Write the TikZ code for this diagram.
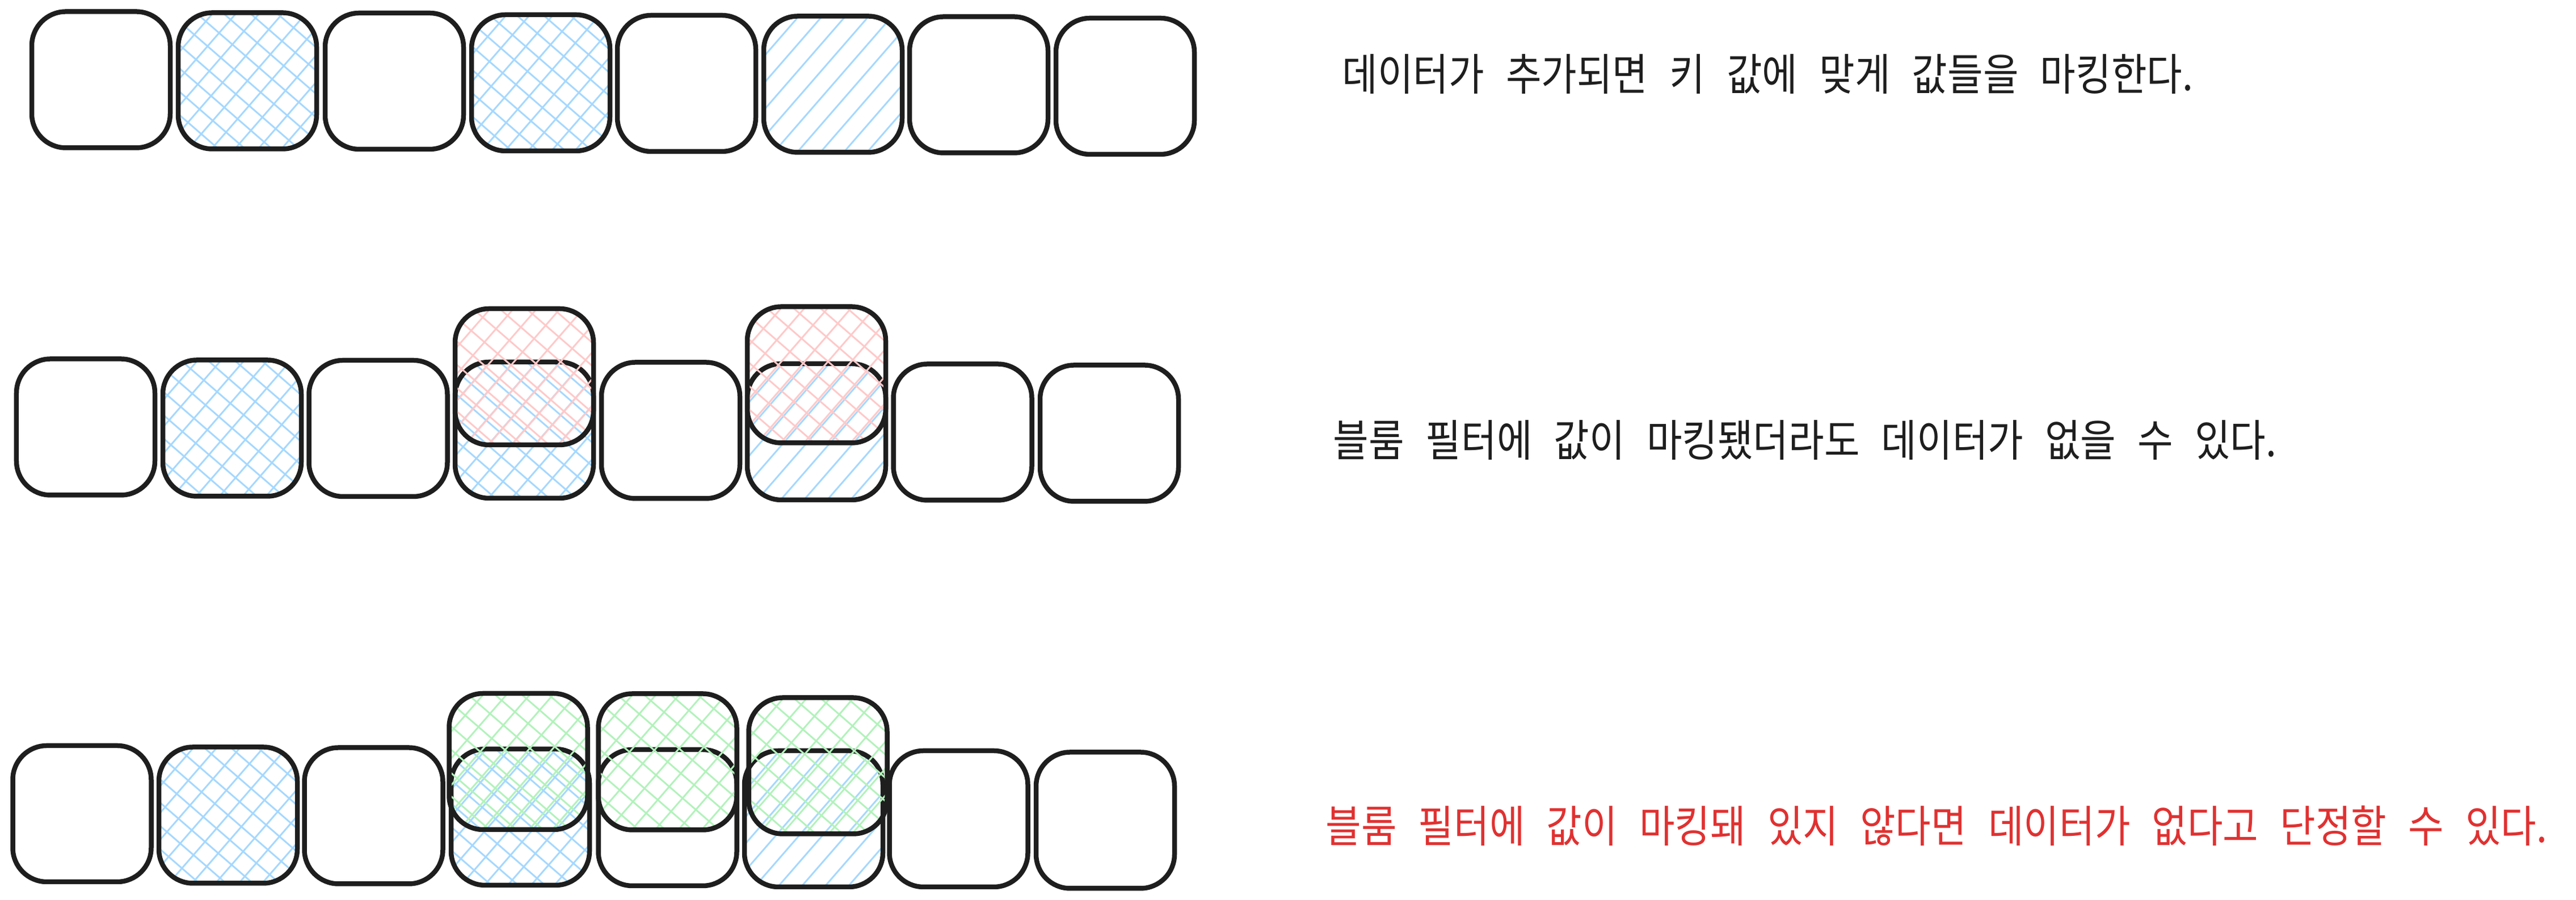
\documentclass[tikz,border=0pt]{standalone}
\usepackage{fontspec}
\usepackage{tikz}
\newfontfamily\kofont{Noto Sans CJK KR}[FakeStretch=0.88,WordSpace=2.5]
\definecolor{ink}{HTML}{1E1E1E}
\definecolor{hblue}{HTML}{A5D8FF}
\definecolor{hpink}{HTML}{FFC9C9}
\definecolor{hgreen}{HTML}{B2F2BB}
\definecolor{alert}{HTML}{E03131}
% hatch lines inside a cell: colour, angle
\newcommand\hatchfill[2]{%
	\begin{scope}[shift={(path picture bounding box.center)}]
	\foreach \k in {-6,...,6}
		\draw[#1, line width=0.03cm] (#2+90:\k*0.31) ++(#2+180:2.5) -- ++(#2:5);
	\end{scope}}

\begin{document}
\begin{tikzpicture}[
	cell/.style={draw=ink, line width=0.085cm, rounded corners=0.6cm, minimum width=2.44cm, minimum height=2.4cm, inner sep=0pt},
	blank/.style={},
	bluediag/.style={path picture={\hatchfill{hblue}{49}}},
	bluecross/.style={path picture={\hatchfill{hblue}{49}\hatchfill{hblue}{139}}},
	pinkcross/.style={path picture={\hatchfill{hpink}{49}\hatchfill{hpink}{139}}},
	greencross/.style={path picture={\hatchfill{hgreen}{49}\hatchfill{hgreen}{139}}},
	msg/.style={anchor=west, inner sep=0pt, text=ink, font=\fontsize{22pt}{26pt}\selectfont\kofont}]
			\useasboundingbox (0,0) rectangle (45.4,15.86);
			%%%	Riga 1
			\foreach \i/\x/\y/\s in {1/1.78/14.455/blank, 2/4.36/14.435/bluecross, 3/6.95/14.43/blank, 4/9.53/14.40/bluecross, 5/12.10/14.39/blank, 6/14.68/14.375/bluediag, 7/17.25/14.365/blank, 8/19.83/14.34/blank}
				\node[cell,\s] (a\i) at (\x,\y) {};
			\node[msg] (ta) at (23.65,14.55) {데이터가 추가되면 키 값에 맞게 값들을 마킹한다.};
			
			%%%	Riga 2
			\foreach \i/\x/\y/\s in {1/1.51/8.335/blank, 2/4.09/8.315/bluecross, 3/6.665/8.31/blank, 4/9.24/8.28/bluecross, 5/11.82/8.275/blank, 6/14.39/8.25/bluediag, 7/16.965/8.245/blank, 8/19.55/8.225/blank}
				\node[cell,\s] (b\i) at (\x,\y) {};
			\node[cell,pinkcross] (b4q) at (9.24,9.22) {};
			\node[cell,pinkcross] (b6q) at (14.39,9.255) {};
			\node[msg] (tb) at (23.49,8.1) {블룸 필터에 값이 마킹됐더라도 데이터가 없을 수 있다.};
			
			%%%	Riga 3
			\foreach \i/\x/\y/\s in {1/1.445/1.52/blank, 2/4.02/1.495/bluecross, 3/6.585/1.485/blank, 4/9.17/1.46/bluecross, 5/11.765/1.45/blank, 6/14.34/1.43/bluediag, 7/16.895/1.43/blank, 8/19.48/1.405/blank}
				\node[cell,\s] (c\i) at (\x,\y) {};
			\node[cell,greencross] (c4q) at (9.135,2.44) {};
			\node[cell,greencross] (c5q) at (11.765,2.435) {};
			\node[cell,greencross] (c6q) at (14.415,2.365) {};
			\node[msg, text=alert] (tc) at (23.36,1.31) {블룸 필터에 값이 마킹돼 있지 않다면 데이터가 없다고 단정할 수 있다.};
		\end{tikzpicture}
\end{document}
